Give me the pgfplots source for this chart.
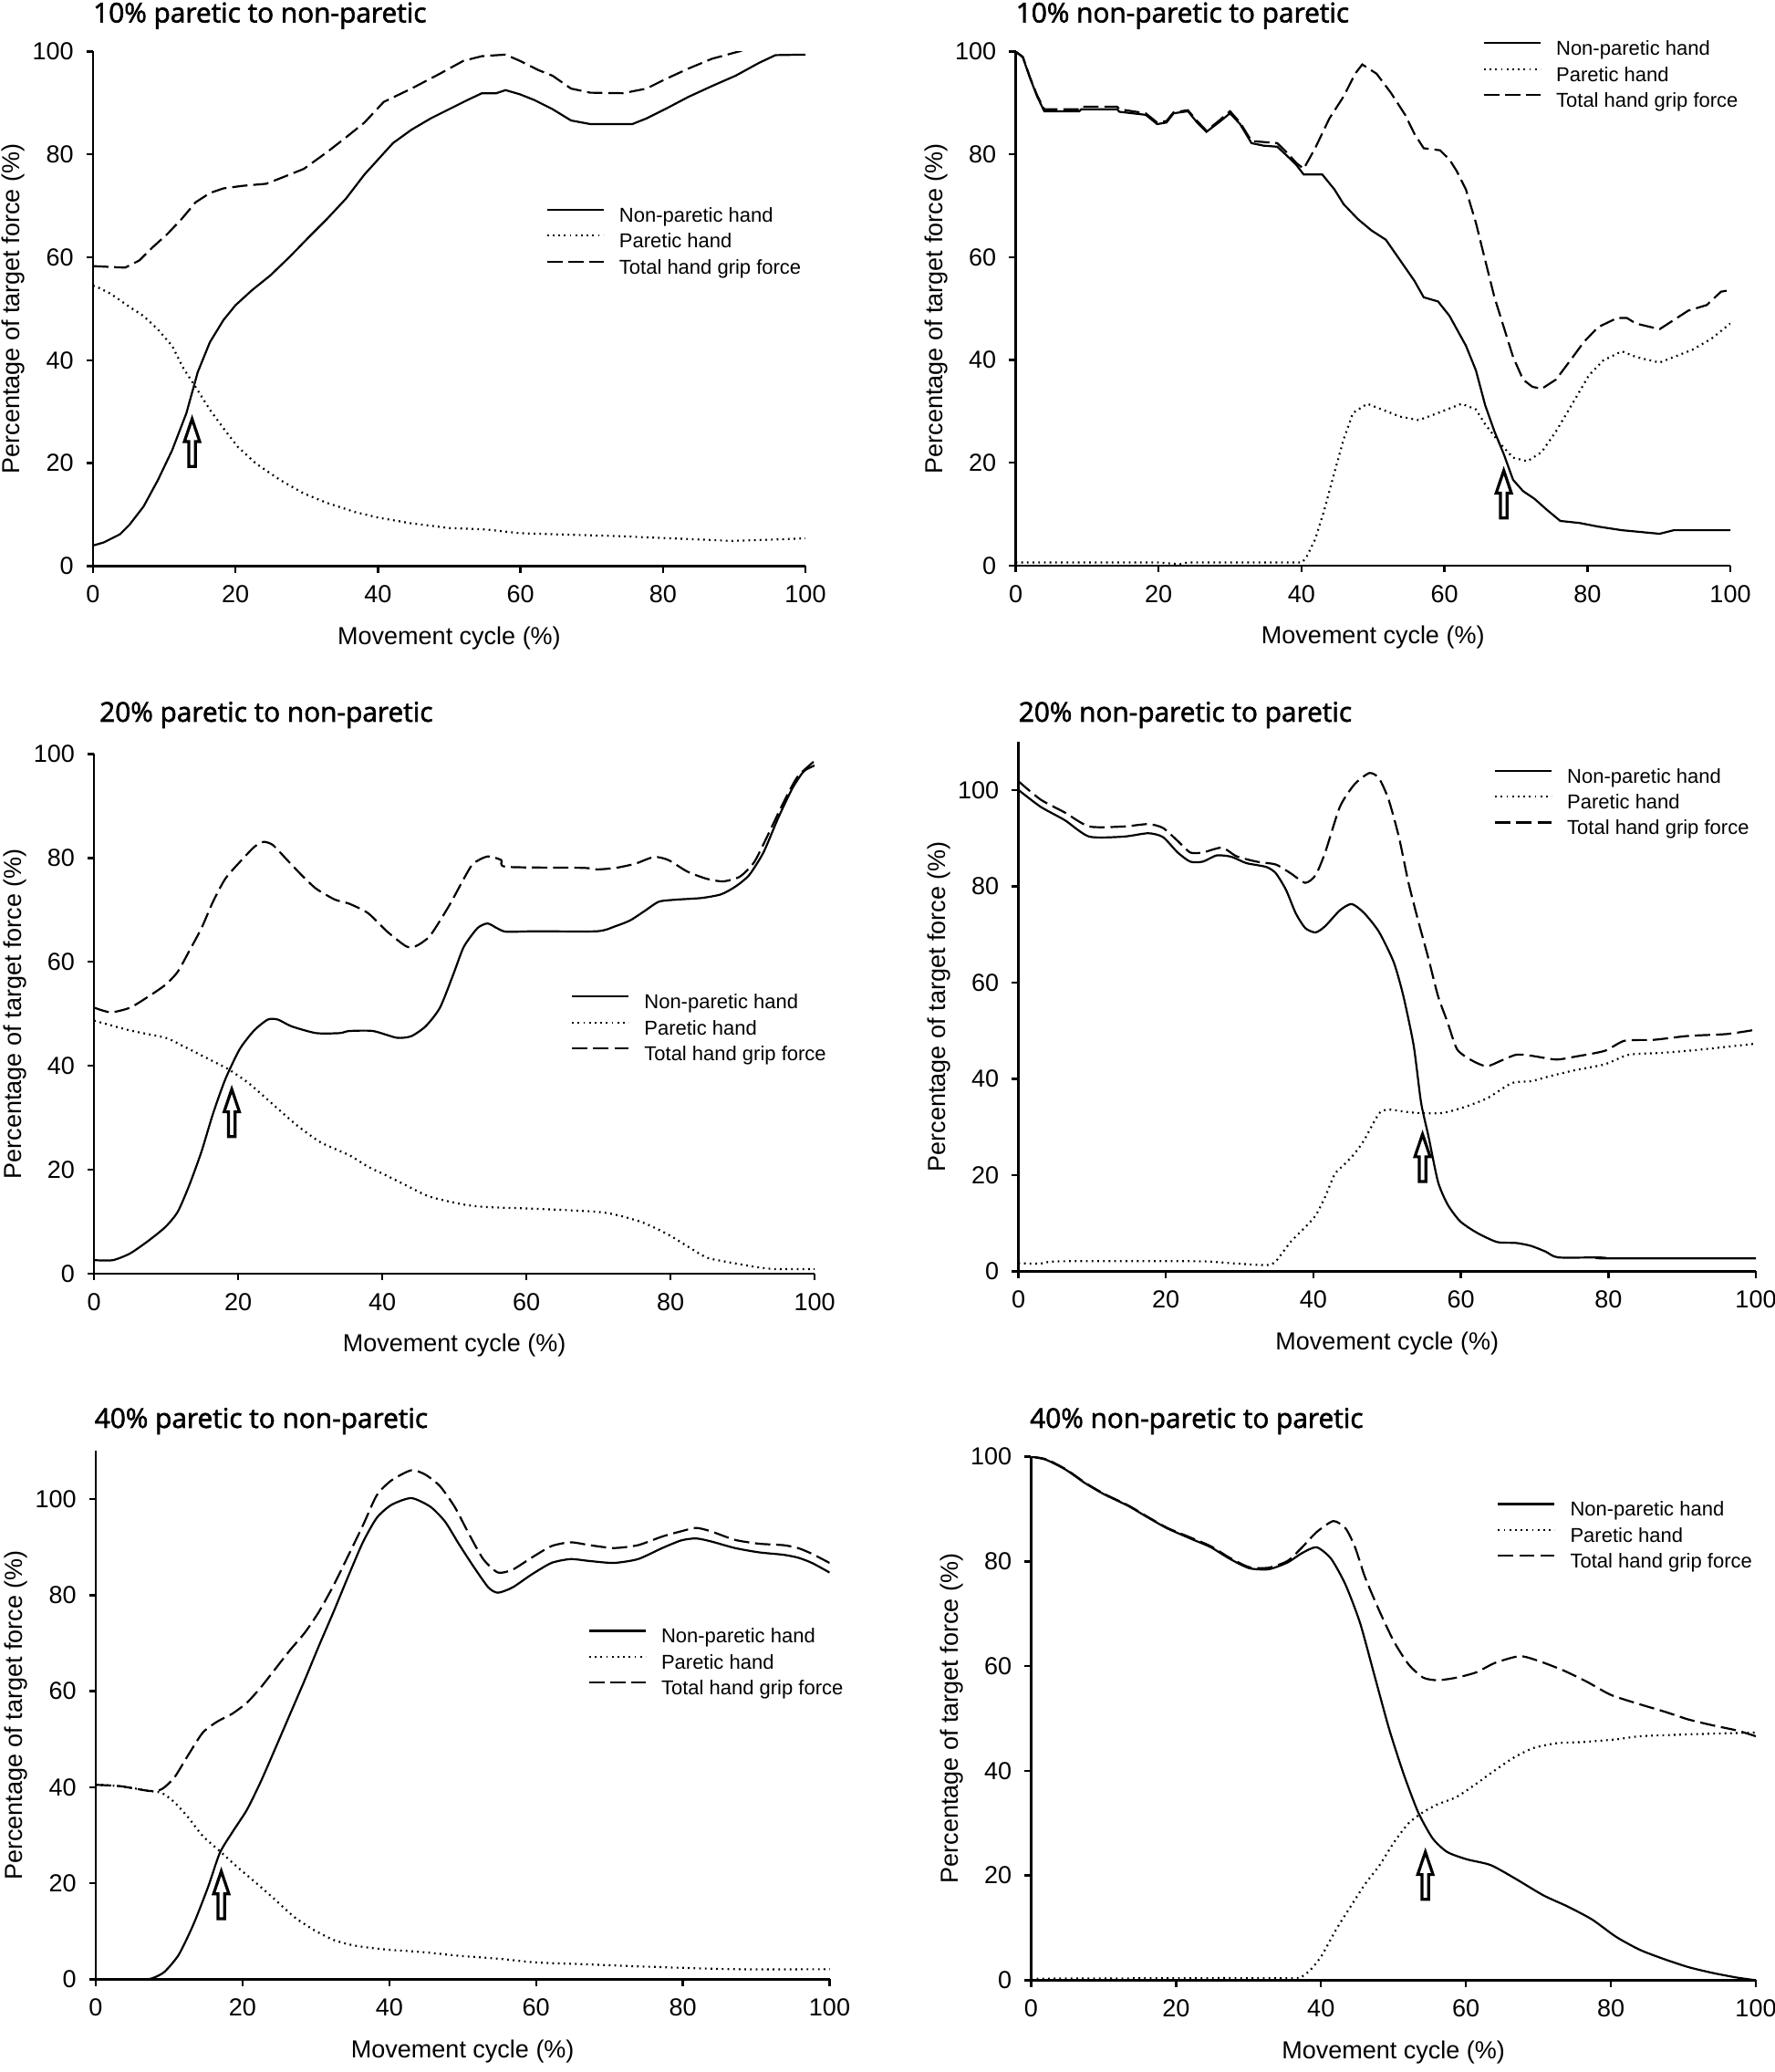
\documentclass[border=0pt]{standalone}
\usepackage{fontspec}
\setmainfont{Liberation Sans}
\newfontfamily\titlefont[FakeBold=2]{Open Sans}
\usepackage{pgfplots}
\pgfplotsset{compat=1.18}

\pgfplotsset{
  panel/.style={
    scale only axis,
    axis x line*=bottom, axis y line*=left,
    axis line style={-, line width=0.6bp, black},
    every outer x axis line/.append style={-},
    every outer y axis line/.append style={-},
    xmin=0, xmax=100, ymin=0, ymax=100,
    xtick={0,20,...,100}, ytick={0,20,...,100},
    tick align=outside, major tick length=1.8bp,
    tick style={line width=0.6bp, black},
    /pgf/number format/assume math mode=true,
    tick label style={font=\fontsize{6.75bp}{8bp}\selectfont},
    label style={font=\fontsize{6.75bp}{8bp}\selectfont},
    xlabel={Movement cycle (\%)},
    ylabel={Percentage of target force (\%)},
    xlabel style={at={([yshift=-19.75bp]axis description cs:0.5,0)}, anchor=center},
    ylabel style={at={([xshift=-21.75bp]axis description cs:0,0.5)}, anchor=center},
    legend cell align=left,
    legend image code/.code={\draw[##1] (0bp,1.9bp) -- (15.5bp,1.9bp);},
    legend style={draw=none, fill=none, anchor=north west, inner sep=0pt, outer sep=0pt,
      font=\fontsize{5.5bp}{6.6bp}\selectfont,
      row sep=2bp, column sep=4bp,
      nodes={inner sep=0pt, outer sep=0pt, text height=4bp, text depth=1.1bp}},
  },
  np/.style={black, line width=0.55bp, solid},
  par/.style={black, line width=0.55bp, dash pattern=on 0.45bp off 1.1bp},
  tot/.style={black, line width=0.55bp, dash pattern=on 4.2bp off 1.6bp},
}
\tikzset{ptitle/.style={anchor=base west, inner sep=0pt, font=\titlefont\fontsize{7.45bp}{8.9bp}\selectfont}}
\newcommand{\uparrowmark}[2]{%
  \draw[black, line width=0.8bp, line join=miter] (axis cs:#1,#2) -- ++(-2.1bp,-6.2bp) -- ++(1.2bp,0) -- ++(0,-6.8bp) -- ++(1.8bp,0) -- ++(0,6.8bp) -- ++(1.2bp,0) -- cycle;}

\begin{document}
\begin{tikzpicture}
\path[use as bounding box] (0,0) rectangle (486.5bp,567.75bp);

% ---------------- Panel 1 ----------------
\begin{axis}[panel, at={(25.5bp,412.625bp)}, anchor=south west, width=195.25bp, height=141bp,
  legend style={at={(0.636,0.697)}}]
\addplot[np] coordinates {(0,4)(1.5,4.6)(3.8,6.2)(5.1,8)(7.1,11.6)(9.1,16.7)(11.1,22.5)(13.1,29.7)(14.7,37.7)(16.4,43.5)(18.3,47.8)(20,50.7)(22.3,53.6)(24.9,56.5)(27.6,60.1)(30.2,63.8)(32.8,67.4)(35.5,71.4)(38.1,76.1)(40,79)(42.1,82.2)(44.7,84.8)(47.4,87)(50,88.8)(52.6,90.6)(54.6,91.9)(56.6,91.9)(57.9,92.5)(59.9,91.7)(61.9,90.6)(64.5,88.8)(67.1,86.6)(69.8,85.9)(75.7,85.9)(77.7,87)(80.3,88.8)(83.6,91.2)(86.9,93.3)(90.2,95.3)(93.5,97.8)(95.8,99.3)(100,99.4)};
\addlegendentry{Non-paretic hand}
\addplot[par] coordinates {(0,54.5)(0.5,54.3)(2.5,52.9)(5.1,50.4)(7.1,48.6)(9.1,46)(11.1,42.8)(12.7,38.4)(14.4,34.8)(16.4,30.4)(18.3,26.8)(20.3,23.2)(22.9,19.9)(26.3,16.7)(29.6,14.1)(32.8,12.3)(36.8,10.5)(40.1,9.4)(44.7,8.3)(50,7.4)(55.3,7.1)(59.9,6.4)(64.5,6.2)(74.4,5.8)(81,5.4)(89.6,4.9)(94.2,5.1)(100,5.4)};
\addlegendentry{Paretic hand}
\addplot[tot] coordinates {(0,58.3)(4.5,58)(6.5,59.4)(8.4,62)(10.4,64.5)(12.4,67.4)(14.4,70.7)(16.4,72.5)(18.3,73.4)(21,73.9)(24.3,74.3)(26.9,75.7)(29.6,77.2)(32.8,80.4)(35.5,83.3)(38.1,86.2)(40.8,90.2)(44.7,92.8)(48.7,95.7)(52,98.2)(54.6,99.1)(57.9,99.4)(59.9,98.2)(62.5,96.4)(64.5,95.3)(67.1,92.8)(69.8,92)(74.4,91.9)(77.7,92.8)(80.3,94.6)(83.6,96.7)(86.9,98.6)(90.9,100.1)(95,102.5)(100,104.8)};
\addlegendentry{Total hand grip force}
\uparrowmark{13.9}{28.6}
\end{axis}
\node[ptitle] at (25.35bp,561.6bp) {10\% paretic to non-paretic};

% ---------------- Panel 2 ----------------
\begin{axis}[panel, at={(278.375bp,412.75bp)}, anchor=south west, width=195.875bp, height=140.85bp,
  legend style={at={(0.654,1.021)}}]
\addplot[np] coordinates {(0,100)(1,98.9)(2,94.9)(3,91.3)(4,88.4)(8.9,88.4)(9.2,88.8)(14.2,88.8)(14.5,88.3)(18.2,87.7)(19.8,85.9)(21.1,86.2)(22.1,88)(24.1,88.4)(25.4,86.2)(26.7,84.4)(28.4,86.2)(30,88)(31.4,85.9)(33,82.2)(34.7,81.7)(36.6,81.5)(38,79.7)(39.3,77.9)(40.3,76.1)(42.9,76.1)(44.6,73.2)(45.9,70.3)(47.9,67.4)(49.8,65.2)(51.8,63.4)(53.8,59.4)(55.8,55.4)(57.1,52.2)(59.1,51.4)(60.7,48.6)(63,42.8)(64.4,38)(65.7,31.2)(67,26.1)(68.3,21.7)(69.6,16.7)(71,14.5)(72.6,13)(74.3,10.9)(76.2,8.7)(78.9,8.3)(81.5,7.6)(84.8,6.9)(90.1,6.2)(92.1,6.9)(100,6.9)};
\addlegendentry{Non-paretic hand}
\addplot[par] coordinates {(0,0.6)(20,0.6)(23,0.3)(24,0.6)(40,0.6)(40.6,1.4)(41.9,5.1)(43.2,10.9)(44.6,18.1)(45.9,24.6)(47.2,29.7)(49.2,31.5)(51.2,30.4)(53.8,29)(56.4,28.3)(59.1,29.7)(62.4,31.5)(64.4,30.4)(65.7,27.5)(67.7,23.9)(69.6,21)(71.6,20.3)(73.6,22.1)(75.6,26.1)(78.2,32.2)(80.2,37)(82.2,39.9)(84.8,41.7)(86.8,40.6)(90.1,39.5)(92.1,40.6)(94.7,42)(97.4,44.2)(100,47.1)};
\addlegendentry{Paretic hand}
\addplot[tot] coordinates {(0,100)(1,99)(2,95)(3,91.5)(4,88.8)(8.9,88.8)(9.2,89.3)(14.2,89.3)(14.5,88.8)(18.2,88)(19.8,86.2)(21.1,86.5)(22.1,88.2)(24.1,88.6)(25.4,86.5)(26.7,84.6)(28.4,86.5)(30,88.4)(31.4,86.2)(33,82.6)(36.6,82.2)(38,80.3)(39.3,78.3)(40.3,77.2)(41.9,81.2)(43.9,87)(45.9,91.3)(47.5,95.7)(48.5,97.5)(50.5,95.7)(52.5,92)(54.5,87.7)(55.8,84)(57.1,81.2)(59.4,80.8)(60.7,79)(61.7,76.8)(63,73.2)(64.4,66.7)(65.7,59.4)(67,52.2)(68.3,46.4)(69.6,40.6)(71,36.2)(72.3,34.8)(73.6,34.4)(75.6,36.2)(77.6,39.9)(79.5,43.5)(81.5,46.4)(84.2,48.2)(85.5,48.2)(86.8,47.1)(90.1,46)(92.1,47.8)(94.1,49.6)(96.7,50.7)(98.7,53.3)(100,53.6)};
\addlegendentry{Total hand grip force}
\uparrowmark{68.3}{18.5}
\end{axis}
\node[ptitle] at (278.25bp,561.6bp) {10\% non-paretic to paretic};

% ---------------- Panel 3 ----------------
\begin{axis}[panel, at={(25.8bp,218.75bp)}, anchor=south west, width=197.5bp, height=142.375bp,
  legend style={at={(0.662,0.538)}}]
\addplot[np, smooth, tension=0.4] coordinates {(0,2.6)(2.6,2.6)(5,3.9)(7.6,6.4)(9.9,9)(11.6,11.9)(13.2,17)(14.9,23.5)(16.5,30.8)(18.2,37.4)(20.2,43.2)(22.2,46.8)(24.1,48.9)(25.5,48.9)(27.4,47.6)(30.8,46.3)(34.1,46.3)(35.4,46.7)(38.7,46.7)(42,45.4)(44,45.7)(46,47.6)(48,51.2)(49.9,57.8)(51.3,62.9)(53.2,66.5)(54.6,67.4)(55.9,66.5)(57.2,65.8)(61.2,65.9)(69.8,65.9)(72.4,66.9)(74.4,68)(76.4,69.8)(78.4,71.6)(81,72)(84.3,72.3)(87,73)(89,74.5)(90.9,76.7)(92.9,81.1)(94.9,87.6)(96.9,93.4)(98.5,96.7)(100,97.8)};
\addlegendentry{Non-paretic hand}
\addplot[par, smooth, tension=0.4] coordinates {(0,48.7)(5,46.8)(9.9,45.4)(12.2,43.9)(14.2,42.5)(16.9,40.6)(18.8,39.2)(21.5,36.6)(24.8,32.6)(28.1,28.6)(31.4,25.3)(35.4,22.8)(38,20.6)(40.7,18.8)(43.3,17)(46.6,14.8)(51.3,13.3)(54.6,12.8)(61.2,12.5)(69.8,11.9)(73.1,11.1)(76.4,9.7)(79.7,7.5)(82.3,5.3)(85,3.1)(87.3,2.4)(90.9,1.5)(94.2,0.9)(100,0.9)};
\addlegendentry{Paretic hand}
\addplot[tot, smooth, tension=0.4] coordinates {(0,51.2)(2.3,50.3)(5,51.2)(7.6,53.4)(9.9,55.6)(11.6,58.1)(13.2,62.1)(14.9,66.5)(16.5,71.6)(18.2,76)(20.2,79.2)(22.2,82.1)(23.5,83.1)(24.8,82.5)(26.8,79.6)(28.8,76.7)(30.8,74.1)(33.4,72)(35.4,71.2)(38,69.4)(40.7,65.8)(43.3,63)(44.6,63)(46.6,65)(49.3,70.9)(51.3,76)(52.6,78.9)(54.6,80.3)(56.5,79.6)(57.2,78.3)(67.8,78.1)(69.8,77.8)(72.4,78.1)(75.1,78.9)(77.7,80.2)(79.7,79.6)(82.3,77.4)(85,76)(87.3,75.5)(89.6,76.4)(91.6,79.2)(93.6,84.7)(95.6,90.5)(97.6,95.6)(100,98.7)};
\addlegendentry{Total hand grip force}
\uparrowmark{19.1}{35.5}
\end{axis}
\node[ptitle] at (27.1bp,370bp) {20\% paretic to non-paretic};

% ---------------- Panel 4 ----------------
\begin{axis}[panel, at={(279.125bp,219.375bp)}, anchor=south west, width=202.125bp, height=145.125bp, ymax=110,
  legend style={at={(0.645,0.950)}}]
\addplot[np, smooth, tension=0.4] coordinates {(0,100)(3,96.5)(6.3,93.7)(9.6,90.3)(14.3,90.3)(17.6,91)(19.6,90.2)(21.6,87)(23.3,85.1)(25,85.1)(26.9,86.4)(28.9,86.1)(30.9,84.8)(33.6,84)(34.9,82.7)(36.3,79.2)(37.6,74.4)(38.9,71.3)(40.3,70.4)(41.6,71.7)(43.6,75)(45.2,76.3)(46.9,74.4)(48.9,70.5)(50.9,64.2)(52.2,57.2)(53.6,46.9)(54.6,35.1)(55.6,28.1)(56.9,18.6)(58.2,13.9)(59.9,10.4)(62.2,8)(64.9,6.1)(67.5,5.9)(69.5,5.3)(71.5,4.1)(73.2,2.9)(78.8,2.9)(79.5,2.7)(100,2.7)};
\addlegendentry{Non-paretic hand}
\addplot[par, smooth, tension=0.4] coordinates {(0,1.7)(3,1.6)(5.7,2.1)(24.3,2.1)(28.9,1.7)(33.6,1.3)(34.9,2.1)(36.9,6.1)(38.9,9.2)(40.3,11.6)(41.6,15.5)(42.9,20.2)(44.2,22.2)(45.6,24.5)(46.9,27.3)(48.9,32.8)(50.2,33.6)(52.2,33.2)(54.2,32.9)(57.5,32.9)(60.2,34)(63.5,35.9)(66.9,39.1)(69.5,39.5)(72.2,40.6)(75.5,41.8)(79.5,43)(82.8,45)(87.4,45.4)(92.1,46)(100,47.3)};
\addlegendentry{Paretic hand}
\addplot[tot, smooth, tension=0.4] coordinates {(0,101.8)(3,98)(6.3,95.3)(9.6,92.4)(14.3,92.4)(17.6,92.9)(19.6,92.1)(21.6,89.4)(23.3,87)(25,87)(27.6,88)(29.6,86.2)(32.3,85.1)(34.9,84.5)(36.9,82.7)(38.9,80.7)(40.3,82.3)(41.6,87)(43.6,96.5)(45.6,101.2)(47.6,103.5)(48.9,102.4)(50.2,98)(51.6,90.2)(52.9,80.7)(54.2,72.9)(55.6,65)(56.9,57.2)(58.2,51.7)(59.5,46.1)(61.5,43.8)(63.5,42.6)(65.5,43.8)(67.5,45)(69.5,44.8)(72.9,44)(75.5,44.6)(79.5,45.8)(82.2,47.9)(86.2,48.1)(90.8,48.9)(96.1,49.3)(100,50.2)};
\addlegendentry{Total hand grip force}
\uparrowmark{54.8}{28.5}
\end{axis}
\node[ptitle] at (279bp,370bp) {20\% non-paretic to paretic};

% ---------------- Panel 5 ----------------
\begin{axis}[panel, at={(26.25bp,25.4bp)}, anchor=south west, width=201.125bp, height=144.75bp, ymax=110,
  legend style={at={(0.671,0.664)}}]
\addplot[np, smooth, tension=0.4] coordinates {(0,0)(6.7,0)(8,0.4)(9.4,1.6)(11.3,5.1)(13.3,11.4)(15.3,19.2)(16.9,26.3)(18.6,30.6)(20.6,35.3)(22.5,41.2)(24.5,48.2)(26.5,55.3)(28.5,62.4)(30.4,69.4)(32.4,76.5)(34.4,83.9)(36.4,91)(38.3,96.1)(40.3,98.8)(43,100.2)(45.6,98.4)(47.6,95.3)(49.5,90.6)(51.5,85.9)(53.5,81.6)(54.8,80.5)(56.8,81.6)(59.4,84.3)(62.1,86.7)(64.7,87.5)(67.3,87.1)(70.6,86.7)(73.9,87.5)(77.2,89.8)(79.8,91.4)(81.8,91.8)(83.8,91.2)(87.1,89.8)(90.4,88.9)(93.7,88.4)(95.7,87.8)(97.6,86.7)(100,84.7)};
\addlegendentry{Non-paretic hand}
\addplot[par, smooth, tension=0.4] coordinates {(0,40.5)(3.4,40.2)(7.4,39.2)(9,38.8)(10.7,36.9)(12.6,33.7)(14.6,29.8)(16.9,26.7)(19.2,23.5)(21.9,20)(24.5,16.5)(27.1,12.9)(29.8,10.2)(32.4,8.2)(35,7.1)(37.7,6.5)(40.3,6.1)(44.3,5.7)(49.5,4.9)(54.8,4.3)(60.1,3.5)(67.3,3.1)(73.9,2.7)(79.8,2.4)(87.1,2.1)(100,2.1)};
\addlegendentry{Paretic hand}
\addplot[tot, smooth, tension=0.4] coordinates {(0,40.5)(3.4,40.2)(7.4,39.2)(9,39.6)(10.7,42)(12.6,46.7)(14.6,51.4)(16.6,53.7)(18.6,55.3)(20.6,57.6)(22.5,60.8)(24.5,64.7)(26.5,68.6)(28.5,72.2)(30.4,76.5)(32.4,82)(34.4,88.2)(36.4,94.5)(38.3,100.8)(40.3,103.9)(43,106)(44.9,105.1)(46.9,102.7)(48.9,98.4)(50.8,92.9)(52.8,87.5)(54.8,84.7)(56.8,85.3)(59.4,87.8)(62.1,90.2)(64.7,91)(67.3,90.4)(70.6,89.8)(73.9,90.4)(77.2,92.2)(79.8,93.3)(81.8,94)(83.8,93.3)(87.1,91.5)(90.4,90.7)(93.7,90.4)(95.7,89.8)(97.6,88.6)(100,86.7)};
\addlegendentry{Total hand grip force}
\uparrowmark{17.1}{22.5}
\end{axis}
\node[ptitle] at (25.75bp,176.5bp) {40\% paretic to non-paretic};

% ---------------- Panel 6 ----------------
\begin{axis}[panel, at={(282.6bp,25.15bp)}, anchor=south west, width=198.65bp, height=143.45bp,
  legend style={at={(0.643,0.914)}}]
\addplot[np, smooth, tension=0.4] coordinates {(0,100)(2.1,99.4)(4.8,97.5)(7.5,94.9)(10.1,92.8)(13.4,90.6)(16.1,88.4)(18.8,86.3)(22.1,84.3)(24.8,82.7)(27.4,80.5)(30.1,78.7)(32.8,78.5)(35.4,79.8)(37.4,81.6)(39.4,82.7)(41.4,80.5)(43.4,75.5)(45.4,68.2)(47.4,58.1)(49.4,48)(51.4,39.4)(53.4,32.1)(55.4,27.1)(57.4,24.5)(60.1,23.1)(63.4,22)(66.7,19.5)(70.7,16.2)(74,14.1)(77.4,11.6)(80.7,8.3)(84,5.8)(87.4,4)(90.7,2.5)(94,1.4)(97.4,0.5)(100,0)};
\addlegendentry{Non-paretic hand}
\addplot[par, smooth, tension=0.4] coordinates {(0,0.3)(25,0.4)(36.1,0.4)(37.4,0.7)(38.7,2.2)(40.1,4.7)(42.1,9.7)(44.1,14.1)(46.1,18.4)(48.1,22)(50.1,26.4)(52.1,30)(54.1,32.1)(56.1,33.6)(58.7,35)(61.4,37.5)(64,40.1)(66.7,42.6)(69.4,44.4)(72.7,45.3)(76.1,45.5)(80.7,46)(84,46.6)(89.4,46.9)(94,47.1)(100,47.3)};
\addlegendentry{Paretic hand}
\addplot[tot, smooth, tension=0.4] coordinates {(0,100)(2.1,99.5)(4.8,97.6)(7.5,95)(10.1,92.9)(13.4,90.7)(16.1,88.5)(18.8,86.4)(22.1,84.5)(24.8,82.9)(27.4,80.7)(30.1,78.9)(32.8,78.8)(35.4,80.1)(37.4,82.7)(39.4,85.6)(41.7,87.7)(43.4,86.3)(44.7,82.7)(46.1,76.9)(48.1,70.4)(50.1,64.6)(52.1,60.3)(54.1,57.8)(56.1,57.3)(58.7,57.8)(61.4,58.8)(64,60.6)(67.4,61.9)(70,61)(73.4,59.2)(76.7,57)(80,54.5)(84,52.7)(87.4,51.3)(90.7,49.8)(94,48.7)(97.4,47.7)(100,46.6)};
\addlegendentry{Total hand grip force}
\uparrowmark{54.4}{24.5}
\end{axis}
\node[ptitle] at (282.1bp,176.5bp) {40\% non-paretic to paretic};

\end{tikzpicture}
\end{document}
